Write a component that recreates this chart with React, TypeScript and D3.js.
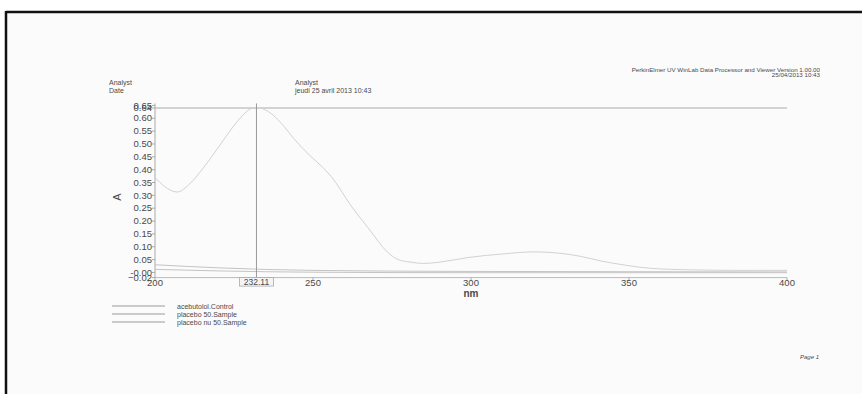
import { useEffect, useRef } from 'react';
import * as d3 from 'd3';

// acebutolol.Control spectrum (nm / absorbance)
const wavelengths = [200, 203, 207, 211, 215.5, 220.8, 226, 230, 232, 236, 240, 244, 249, 253, 256, 262, 268, 273.5, 277, 281, 285, 290, 299, 310, 320, 328, 335, 341, 349, 357, 370, 385, 400];
const controlAbs = [0.37, 0.335, 0.313, 0.345, 0.41, 0.5, 0.587, 0.635, 0.642, 0.625, 0.58, 0.52, 0.455, 0.41, 0.37, 0.26, 0.165, 0.08, 0.05, 0.04, 0.035, 0.04, 0.058, 0.072, 0.08, 0.075, 0.062, 0.045, 0.028, 0.016, 0.01, 0.008, 0.008];

// placebo spectra (flat near zero)
const placeboNm = [200, 220, 250, 300, 350, 400];
const placebo50 = [0.03, 0.018, 0.008, 0.004, 0.003, 0.002];
const placeboNu50 = [0.012, 0.006, 0.001, -0.001, -0.001, -0.001];

const yTicks = [0.65, 0.64, 0.6, 0.55, 0.5, 0.45, 0.4, 0.35, 0.3, 0.25, 0.2, 0.15, 0.1, 0.05, 0, -0.02];
const xTicks = [200, 250, 300, 350, 400];
const cursorNm = 232.11;
const legendNames = ['acebutolol.Control', 'placebo 50.Sample', 'placebo nu 50.Sample'];

const App = () => {
  const svgRef = useRef(null);

  useEffect(() => {
    const width = 862;
    const height = 394;
    const font = 'Liberation Sans, Arial, sans-serif';

    const svg = d3.select(svgRef.current).attr('width', width).attr('height', height);
    svg.selectAll('*').remove();

    // scanned page with black frame
    svg.append('rect').attr('width', width).attr('height', height).attr('fill', '#ffffff');
    svg.append('rect').attr('x', 7).attr('y', 13).attr('width', width).attr('height', height)
      .attr('fill', '#fbfbfb');
    svg.append('line').attr('x1', 6).attr('x2', width).attr('y1', 12).attr('y2', 12)
      .attr('stroke', '#111').attr('stroke-width', 2.5);
    svg.append('line').attr('x1', 6).attr('x2', 6).attr('y1', 11).attr('y2', height)
      .attr('stroke', '#111').attr('stroke-width', 2.5);

    const x = d3.scaleLinear().domain([200, 400]).range([155, 787]);
    const y = d3.scaleLinear().domain([-0.02, 0.64]).range([277.6, 108]);

    const txt = (tx, ty, s, size, anchor = 'start', extra = {}) => {
      const t = svg.append('text').attr('x', tx).attr('y', ty).text(s)
        .attr('font-family', font).attr('font-size', size).attr('fill', '#4a4a4a')
        .attr('text-anchor', anchor);
      Object.entries(extra).forEach(([k, v]) => t.attr(k, v));
      return t;
    };

    // header
    txt(109, 85, 'Analyst', 7);
    txt(109, 92.5, 'Date', 7);
    txt(295, 85, 'Analyst', 7);
    txt(295, 92.5, 'jeudi 25 avril 2013 10:43', 7);
    txt(820, 71.5, 'PerkinElmer UV WinLab Data Processor and Viewer Version 1.00.00', 6.2, 'end');
    txt(820, 77, '25/04/2013 10:43', 6.2, 'end');
    txt(819, 359, 'Page 1', 6, 'end', { 'font-style': 'italic' });

    // frame lines
    svg.append('line').attr('x1', x(200)).attr('x2', x(400)).attr('y1', y(0.64)).attr('y2', y(0.64))
      .attr('stroke', '#aaa').attr('stroke-width', 1);
    svg.append('line').attr('x1', x(200)).attr('x2', x(400)).attr('y1', y(-0.02)).attr('y2', y(-0.02))
      .attr('stroke', '#bbb').attr('stroke-width', 1);
    svg.append('line').attr('x1', x(200)).attr('x2', x(200)).attr('y1', y(0.65) - 2).attr('y2', y(-0.02))
      .attr('stroke', '#aaa').attr('stroke-width', 1);

    // y ticks
    yTicks.forEach((v) => {
      svg.append('line').attr('x1', x(200) - 3).attr('x2', x(200)).attr('y1', y(v)).attr('y2', y(v))
        .attr('stroke', '#aaa');
      const label = v === 0 ? '-0.00' : d3.format('.2f')(v);
      txt(x(200) - 3, y(v) + 3.2, label, 9.5, 'end');
    });
    txt(0, 0, 'A', 11, 'middle', { transform: 'translate(121,197) rotate(-90)' });

    // x ticks
    xTicks.forEach((v) => {
      svg.append('line').attr('x1', x(v)).attr('x2', x(v)).attr('y1', y(-0.02)).attr('y2', y(-0.02) + 3)
        .attr('stroke', '#aaa');
      txt(x(v), y(-0.02) + 8, String(v), 9.5, 'middle');
    });
    txt(x(300), 296.5, 'nm', 10, 'middle', { 'font-weight': 'bold' });

    // spectra
    const line = d3.line().x((d) => x(d[0])).y((d) => y(d[1])).curve(d3.curveMonotoneX);
    svg.append('path').datum(placeboNm.map((v, i) => [v, placebo50[i]]))
      .attr('d', line).attr('fill', 'none').attr('stroke', '#c4c4c4').attr('stroke-width', 1);
    svg.append('path').datum(placeboNm.map((v, i) => [v, placeboNu50[i]]))
      .attr('d', line).attr('fill', 'none').attr('stroke', '#c4c4c4').attr('stroke-width', 1);
    svg.append('path').datum(wavelengths.map((v, i) => [v, controlAbs[i]]))
      .attr('d', line).attr('fill', 'none').attr('stroke', '#d2d2d2').attr('stroke-width', 1);

    // cursor
    svg.append('line').attr('x1', x(cursorNm)).attr('x2', x(cursorNm)).attr('y1', y(0.65) - 2).attr('y2', y(-0.02))
      .attr('stroke', '#999').attr('stroke-width', 1);
    svg.append('rect').attr('x', x(cursorNm) - 17).attr('y', y(-0.02)).attr('width', 34).attr('height', 8.5)
      .attr('fill', '#f4f4f4').attr('stroke', '#aaa').attr('stroke-width', 0.8);
    txt(x(cursorNm), y(-0.02) + 7.5, String(cursorNm), 8.5, 'middle');

    // legend
    legendNames.forEach((name, i) => {
      const ly = 306 + i * 8;
      svg.append('line').attr('x1', 112).attr('x2', 165).attr('y1', ly).attr('y2', ly)
        .attr('stroke', '#999').attr('stroke-width', 1);
      txt(177, ly + 2.5, name, 7);
    });
  }, []);

  return <svg ref={svgRef} style={{ position: 'absolute', left: 0, top: 0 }}></svg>;
};

export default App;
